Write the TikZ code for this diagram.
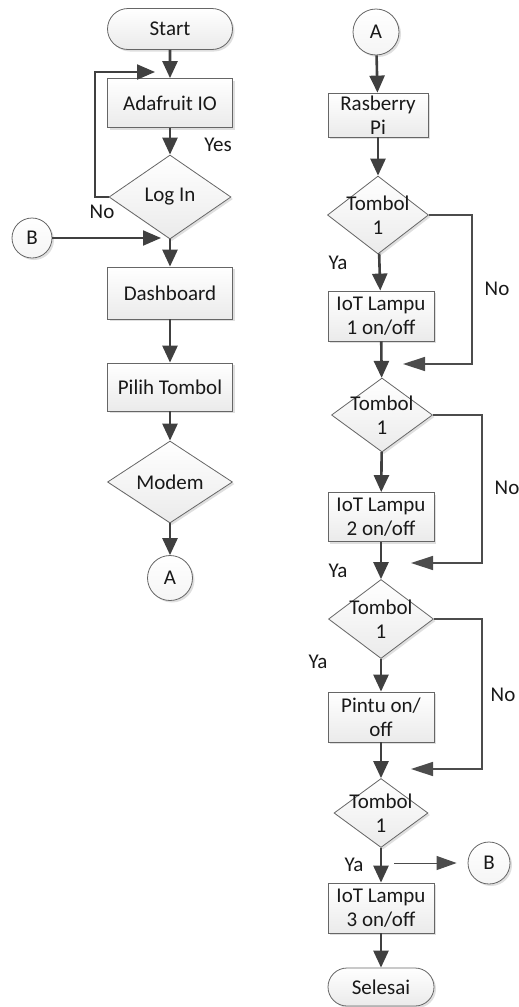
\documentclass[tikz,border=0pt]{standalone}
\usepackage{fontspec}
\setmainfont{Carlito}
\usetikzlibrary{shapes.geometric,shapes.misc,arrows.meta,shadows}
\begin{document}
\begin{tikzpicture}[x=1pt,y=-1pt,
  txt/.style={font=\fontsize{21}{24}\selectfont, align=center, inner sep=0pt, text=black!90},
  base/.style={txt, draw=black!60, line width=0.8pt, top color=white, bottom color=black!8,
    drop shadow={shadow xshift=2pt,shadow yshift=-2pt,fill=black!25,opacity=0.5}},
  procbox/.style={base, rectangle},
  term/.style={base, rounded rectangle},
  dia/.style={base, diamond},
  conn/.style={base, circle, bottom color=black!4},
  lbl/.style={txt},
  flow/.style={draw=black!75, line width=2.6pt, -{Triangle[length=17pt,width=15pt]}},
  loopline/.style={draw=black!75, line width=2pt, -{Triangle[length=18pt,width=15pt]}},
  fb/.style={draw=black!70, line width=1.4pt, -{Triangle[length=22pt,width=14pt]}},
  thinflow/.style={draw=black!70, line width=1pt, -{Triangle[length=20pt,width=14pt]}}
]
\useasboundingbox (0,0) rectangle (519,1007);

% left column
\node[term, minimum width=125pt, minimum height=41pt] (start) at (170,29) {Start};
\node[procbox, minimum width=125pt, minimum height=49pt] (ada) at (170,103) {Adafruit IO};
\node[dia, minimum width=122pt, minimum height=84pt, label={[lbl]center:Log In}] (login) at (170,197) {};
\node[conn, minimum size=40pt] (Bl) at (32,238) {B};
\node[procbox, minimum width=125pt, minimum height=52pt] (dash) at (170,293) {Dashboard};
\node[procbox, minimum width=125pt, minimum height=48pt] (pilih) at (170,387) {Pilih Tombol};
\node[dia, minimum width=125pt, minimum height=82pt, label={[lbl]center:Modem}] (modem) at (170,482) {};
\node[conn, minimum size=45pt] (Al) at (170,578) {A};

\coordinate (loopend) at (155,72);
\coordinate (bend) at (161,238);

\draw[flow] (start) -- (ada);
\draw[flow] (ada) -- (login);
\draw[loopline] (login.west) -- ++(-14,0) |- (loopend);
\draw[loopline] (Bl) -- (bend);
\draw[flow] (login) -- (dash);
\draw[flow] (dash) -- (pilih);
\draw[flow] (pilih) -- (modem);
\draw[flow] (modem) -- (Al);

\node[lbl] (yes) at (218,145) {Yes};
\node[lbl] (no0) at (102,212) {No};

% right column
\node[conn, minimum size=46pt] (Ar) at (376,32) {A};
\node[procbox, minimum width=100pt, minimum height=44pt] (ras) at (378,115) {Rasberry\\Pi};
\node[dia, minimum width=101pt, minimum height=78pt, label={[lbl]center:Tombol\\1}] (t1) at (378,215) {};
\node[procbox, minimum width=106pt, minimum height=50pt] (l1) at (381,316) {IoT Lampu\\1 on/off};
\node[dia, minimum width=101pt, minimum height=74pt, label={[lbl]center:Tombol\\1}] (t2) at (382,415) {};
\node[procbox, minimum width=106pt, minimum height=49pt] (l2) at (381,517) {IoT Lampu\\2 on/off};
\node[dia, minimum width=105pt, minimum height=79pt, label={[lbl]center:Tombol\\1}] (t3) at (381,619) {};
\node[procbox, minimum width=106pt, minimum height=50pt] (pintu) at (381,717) {Pintu on/\\off};
\node[dia, minimum width=94pt, minimum height=69pt, label={[lbl]center:Tombol\\1}] (t4) at (381,813) {};
\node[procbox, minimum width=106pt, minimum height=50pt] (l3) at (381,908) {IoT Lampu\\3 on/off};
\node[term, minimum width=106pt, minimum height=38pt] (end) at (381,987) {Selesai};
\node[conn, minimum size=42pt] (Br) at (489,863) {B};

\draw[flow] (Ar) -- (ras);
\draw[flow] (ras) -- (t1);
\draw[flow] (t1) -- (l1);
\draw[flow] (l1) -- (t2);
\draw[flow] (t2) -- (l2);
\draw[flow] (l2) -- (t3);
\draw[flow] (t3) -- (pintu);
\draw[flow] (pintu) -- (t4);
\draw[flow] (t4) -- (l3);
\draw[flow] (l3) -- (end);

\coordinate (f1) at (403,364);
\coordinate (f2) at (411,563);
\coordinate (f3) at (411,769);
\coordinate (yb) at (394,863);
\draw[fb] (t1.east) -- (472,215) -- (472,364) -- (f1);
\draw[fb] (t2.east) -- (482,415) -- (482,563) -- (f2);
\draw[fb] (t3.east) -- (482,619) -- (482,769) -- (f3);
\draw[thinflow, shorten >=11pt] (yb) -- (Br);

\node[lbl] (ya1) at (338,263) {Ya};
\node[lbl] (no1) at (497,289) {No};
\node[lbl] (no2) at (507,488) {No};
\node[lbl] (ya2) at (338,571) {Ya};
\node[lbl] (ya3) at (318,662) {Ya};
\node[lbl] (no3) at (503,695) {No};
\node[lbl] (ya4) at (354,865) {Ya};
\end{tikzpicture}
\end{document}
